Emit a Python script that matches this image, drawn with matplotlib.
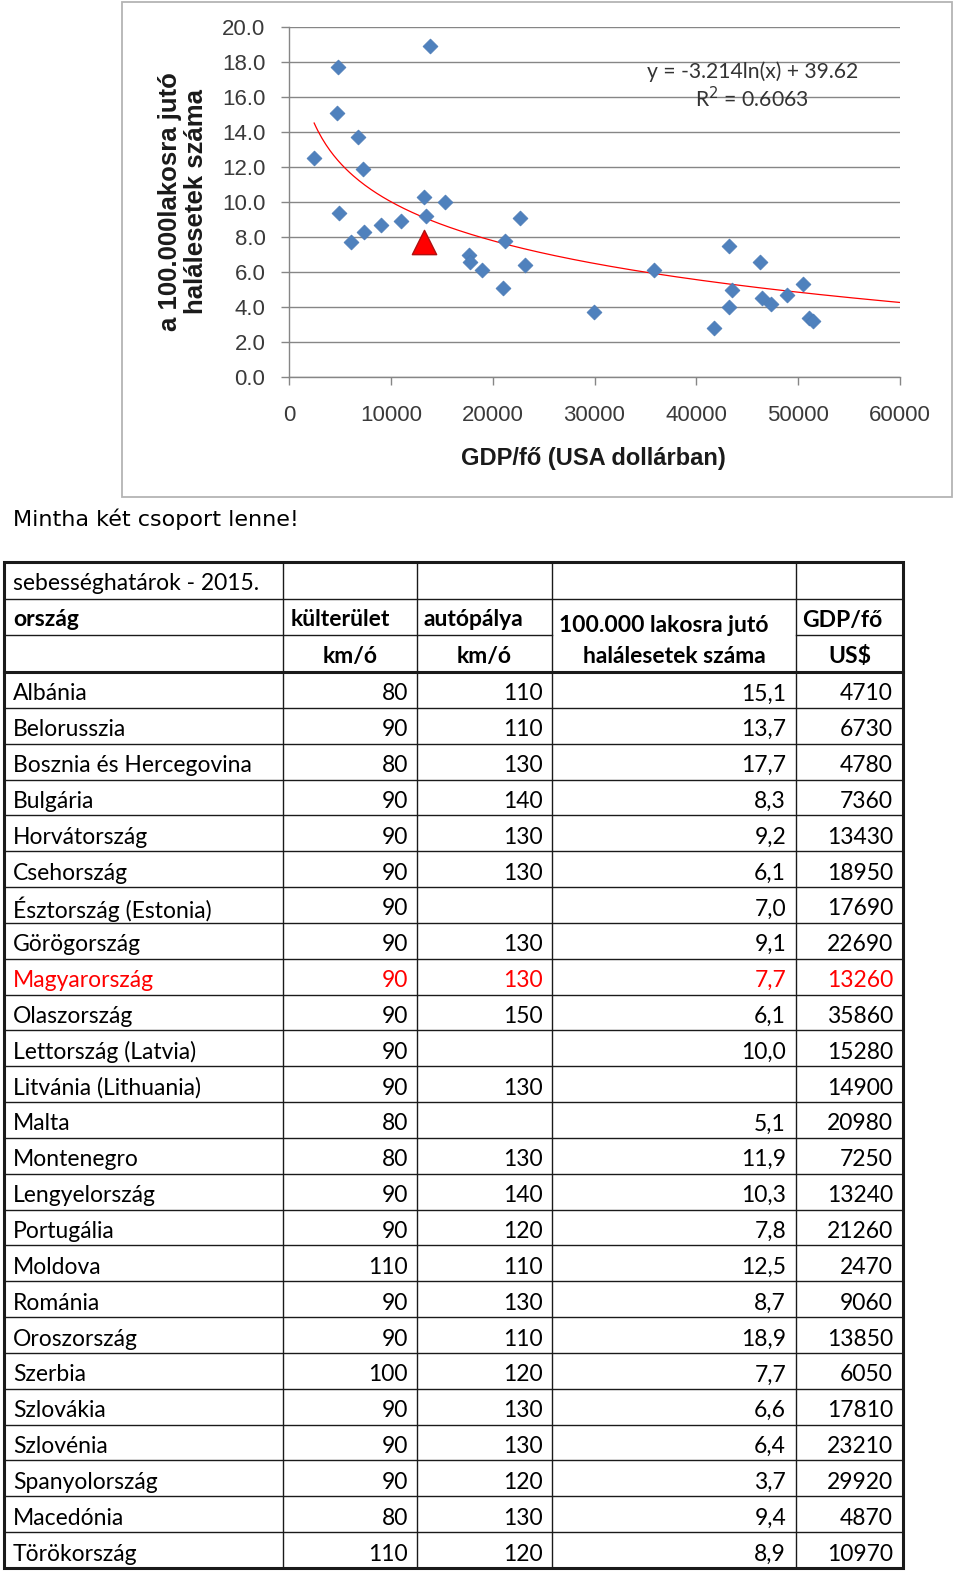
import numpy as np
import matplotlib
matplotlib.use("Agg")
import matplotlib.pyplot as plt
from matplotlib.patches import Rectangle

# ---------------- data ----------------
countries = ['Albánia', 'Belorusszia', 'Bosznia és Hercegovina', 'Bulgária', 'Horvátország',
             'Csehország', 'Észtország (Estonia)', 'Görögország', 'Magyarország', 'Olaszország',
             'Lettország (Latvia)', 'Litvánia (Lithuania)', 'Malta', 'Montenegro', 'Lengyelország',
             'Portugália', 'Moldova', 'Románia', 'Oroszország', 'Szerbia', 'Szlovákia',
             'Szlovénia', 'Spanyolország', 'Macedónia', 'Törökország']
rural = [80, 90, 80, 90, 90, 90, 90, 90, 90, 90, 90, 90, 80, 80, 90, 90, 110, 90, 90, 100,
         90, 90, 90, 80, 110]
motorway = [110, 110, 130, 140, 130, 130, None, 130, 130, 150, None, 130, None, 130, 140,
            120, 110, 130, 110, 120, 130, 130, 120, 130, 120]
deaths = [15.1, 13.7, 17.7, 8.3, 9.2, 6.1, 7.0, 9.1, 7.7, 6.1, 10.0, None, 5.1, 11.9, 10.3,
          7.8, 12.5, 8.7, 18.9, 7.7, 6.6, 6.4, 3.7, 9.4, 8.9]
gdp = [4710, 6730, 4780, 7360, 13430, 18950, 17690, 22690, 13260, 35860, 15280, 14900, 20980,
       7250, 13240, 21260, 2470, 9060, 13850, 6050, 17810, 23210, 29920, 4870, 10970]
highlight = 'Magyarország'

# further countries plotted in the chart (rows below the visible part of the table)
gdp_more = [41700, 43200, 43200, 43500, 46300, 46400, 47300, 48900, 50500, 51100, 51500]
deaths_more = [2.8, 7.5, 4.0, 5.0, 6.6, 4.5, 4.2, 4.7, 5.3, 3.4, 3.2]

# logarithmic trendline given in the chart
trend_a, trend_b = -3.214, 39.62
r2 = 0.6063

yticks = [0, 2, 4, 6, 8, 10, 12, 14, 16, 18, 20]
xticks = [0, 10000, 20000, 30000, 40000, 50000, 60000]

title_cell = 'sebességhatárok - 2015.'
caption = 'Mintha két csoport lenne!'

# ---------------- figure ----------------
W, H = 960, 1573
fig = plt.figure(figsize=(W / 100, H / 100), dpi=100)
fig.patch.set_facecolor('white')

bg = fig.add_axes([0, 0, 1, 1])
bg.set_xlim(0, W)
bg.set_ylim(H, 0)
bg.axis('off')

NARROW = ['Liberation Sans', 'DejaVu Sans']
TABF = ['Lato', 'DejaVu Sans']

# chart frame
bg.add_patch(Rectangle((121.5, 1.5), 830.5, 495.5, fill=False, ec='#b4b4b4', lw=1.3))

# ---------------- scatter chart ----------------
x0, x1, yb, yt = 289, 900, 377, 27
ax = fig.add_axes([x0 / W, 1 - yb / H, (x1 - x0) / W, (yb - yt) / H])
ax.set_xlim(0, 60000)
ax.set_ylim(0, 20)
for s in ['top', 'right']:
    ax.spines[s].set_visible(False)
for s in ['left', 'bottom']:
    ax.spines[s].set_color('#868686')
    ax.spines[s].set_linewidth(1.0)
ax.set_yticks(yticks)
ax.set_yticklabels([f'{v:.1f}' for v in yticks])
ax.set_xticks(xticks)
ax.set_xticklabels([str(v) for v in xticks])
ax.tick_params(axis='both', colors='#868686', labelcolor='#3a3a3a', length=6, width=1.0,
               direction='out')
ax.tick_params(axis='y', pad=11)
ax.tick_params(axis='x', pad=14)
for lab in ax.get_xticklabels() + ax.get_yticklabels():
    lab.set_fontfamily(NARROW)
    lab.set_fontsize(16)
ax.yaxis.grid(True, color='#868686', lw=1.0)
ax.set_axisbelow(True)

gx = [g for g, d, c in zip(gdp, deaths, countries) if d is not None and c != highlight]
gy = [d for g, d, c in zip(gdp, deaths, countries) if d is not None and c != highlight]
gx += gdp_more
gy += deaths_more
ax.scatter(gx, gy, marker='D', s=7.6 ** 2, color='#4f81bd', edgecolors='#4a7ab5',
           linewidths=0.5, zorder=3)
hi = countries.index(highlight)
ax.scatter([gdp[hi]], [deaths[hi]], marker='^', s=17.5 ** 2, color='#ff0000',
           edgecolors='#b01010', linewidths=1.0, zorder=4)

valid_g = [g for g, d in zip(gdp + gdp_more, deaths + deaths_more) if d is not None]
tx = np.linspace(min(valid_g), 60000, 300)
ax.plot(tx, trend_a * np.log(tx) + trend_b, color='#ff0000', lw=0.9, zorder=2)

fig.text(753 / W, 1 - 72 / H, f'y = {trend_a}ln(x) + {trend_b}', ha='center', va='center',
         fontsize=15.2, family=TABF, color='#333333')
fig.text(752 / W, 1 - 99 / H, f'R$^2$ = {r2}', ha='center', va='center',
         fontsize=15.2, family=TABF, color='#333333')

fig.text(183 / W, 1 - 202 / H, 'a 100.000lakosra jutó\nhalálesetek száma', rotation=90,
         ha='center', va='center', fontsize=18.5, fontweight='bold', family=NARROW,
         linespacing=1.15, color='#1a1a1a')
fig.text(593 / W, 1 - 458 / H, 'GDP/fő (USA dollárban)', ha='center', va='center',
         fontsize=17, fontweight='bold', family=NARROW, color='#1a1a1a')

# caption
bg.text(13, 526, caption, ha='left', va='baseline', fontsize=16, family=['DejaVu Sans'],
        color='black')

# ---------------- table ----------------
col_x = [4, 283, 417, 552, 796, 903]
head_y = [562, 599, 635, 672]
bottom = 1568
n = len(countries)
rh = (bottom - head_y[-1]) / n
lc = '#1a1a1a'

# vertical lines
for cx in col_x[1:-1]:
    bg.plot([cx, cx], [head_y[0], bottom], color=lc, lw=1.0)
# header horizontal lines
bg.plot([col_x[0], col_x[-1]], [head_y[1]] * 2, color=lc, lw=1.0)
bg.plot([col_x[0], col_x[3]], [head_y[2]] * 2, color=lc, lw=1.0)
bg.plot([col_x[4], col_x[5]], [head_y[2]] * 2, color=lc, lw=1.0)
bg.plot([col_x[0], col_x[-1]], [head_y[3]] * 2, color=lc, lw=2.2)
# data row lines
for i in range(1, n):
    yy = head_y[3] + i * rh
    bg.plot([col_x[0], col_x[-1]], [yy, yy], color=lc, lw=1.0)
# outer border
bg.add_patch(Rectangle((col_x[0], head_y[0]), col_x[-1] - col_x[0], bottom - head_y[0],
                       fill=False, ec=lc, lw=2.2))

FS = 16.5
tk = dict(fontsize=FS, family=TABF, color='black', va='center_baseline')
bg.text(13, (head_y[0] + head_y[1]) / 2 + 1, title_cell, ha='left', **tk)
hb = dict(tk, fontweight='bold')
r2y = (head_y[1] + head_y[2]) / 2 + 1
r3y = (head_y[2] + head_y[3]) / 2 + 1
bg.text(13, r2y, 'ország', ha='left', **hb)
bg.text(291, r2y, 'külterület', ha='left', **hb)
bg.text(424, r2y, 'autópálya', ha='left', **hb)
bg.text(802, r2y, 'GDP/fő', ha='left', **hb)
bg.text((col_x[1] + col_x[2]) / 2, r3y, 'km/ó', ha='center', **hb)
bg.text((col_x[2] + col_x[3]) / 2, r3y, 'km/ó', ha='center', **hb)
bg.text((col_x[4] + col_x[5]) / 2, r3y, 'US$', ha='center', **hb)
bg.text(559, r2y + 5, '100.000 lakosra jutó', ha='left', **hb)
bg.text((col_x[3] + col_x[4]) / 2, r3y, 'halálesetek száma', ha='center', **hb)

for i, c in enumerate(countries):
    yy = head_y[3] + (i + 0.5) * rh + 2
    col = '#ff0000' if c == highlight else 'black'
    t = dict(tk, color=col)
    bg.text(13, yy, c, ha='left', **t)
    bg.text(col_x[2] - 9, yy, str(rural[i]), ha='right', **t)
    if motorway[i] is not None:
        bg.text(col_x[3] - 9, yy, str(motorway[i]), ha='right', **t)
    if deaths[i] is not None:
        bg.text(col_x[4] - 10, yy, f'{deaths[i]:.1f}'.replace('.', ','), ha='right', **t)
    bg.text(col_x[5] - 10, yy, str(gdp[i]), ha='right', **t)

fig.savefig('out.png', dpi=100, facecolor='white')
